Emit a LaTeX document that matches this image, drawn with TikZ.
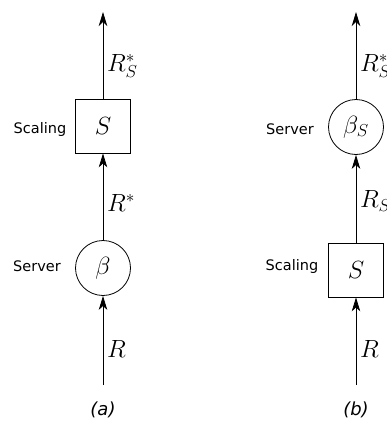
\documentclass[tikz,border=0pt]{standalone}
\usepackage{fontspec}
\newfontfamily\dejavu{DejaVu Sans}
\usetikzlibrary{arrows.meta}
\begin{document}
\begin{tikzpicture}[x=1pt,y=-1pt,
  flow/.style={draw=black, line width=0.8pt, -{Stealth[length=14pt,width=8.5pt,inset=4pt]}},
  blockbox/.style={draw=black, line width=0.8pt, minimum width=55pt, minimum height=54pt, inner sep=0pt, font=\fontsize{27}{30}\selectfont},
  srvcircle/.style={draw=black, line width=0.8pt, circle, minimum size=55pt, inner sep=0pt, font=\fontsize{27}{30}\selectfont},
  sidelabel/.style={font=\dejavu\fontsize{14.5}{16}\selectfont, inner sep=0pt},
  mathlabel/.style={font=\fontsize{27}{30}\selectfont, inner sep=0pt, anchor=west},
  caption/.style={font=\dejavu\itshape\fontsize{18}{20}\selectfont, inner sep=0pt}]
\useasboundingbox (0,0) rectangle (386,423);
\clip (0,0) rectangle (386,423);
% panel (a)
\coordinate (atop) at (103,12);
\coordinate (abot) at (103,385);
\node[blockbox] (ascale) at (103,126) {$S$};
\node[srvcircle] (aserv) at (103,268) {$\beta$};
\draw[flow] (abot) -- (aserv);
\draw[flow] (aserv) -- (ascale);
\draw[flow] (ascale) -- (atop);
\node[sidelabel] (ascl) at (40,129) {Scaling};
\node[sidelabel] (asrv) at (37,266) {Server};
\node[mathlabel] (aRs) at (107,66) {$R^*_S$};
\node[mathlabel] (aRst) at (107,203) {$R^*$};
\node[mathlabel] (aR) at (107,349) {$R$};
\node[caption] (acap) at (103,410) {(a)};
% panel (b)
\coordinate (btop) at (356,12);
\coordinate (bbot) at (356,385);
\node[srvcircle] (bserv) at (356,127) {$\beta_S$};
\node[blockbox] (bscale) at (356,270) {$S$};
\draw[flow] (bbot) -- (bscale);
\draw[flow] (bscale) -- (bserv);
\draw[flow] (bserv) -- (btop);
\node[sidelabel] (bsrv) at (290,129) {Server};
\node[sidelabel] (bscl) at (292,266) {Scaling};
\node[mathlabel] (bRs) at (360,66) {$R^*_S$};
\node[mathlabel] (bRS) at (360,201) {$R_S$};
\node[mathlabel] (bR) at (360,349) {$R$};
\node[caption] (bcap) at (356,410) {(b)};
\end{tikzpicture}
\end{document}
